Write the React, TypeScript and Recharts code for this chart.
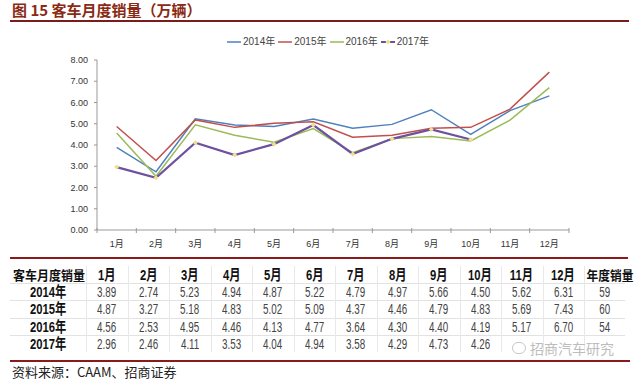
import { LineChart, Line, XAxis, YAxis } from "recharts";

const months = ["1月", "2月", "3月", "4月", "5月", "6月", "7月", "8月", "9月", "10月", "11月", "12月"];
const sales2014 = [3.89, 2.74, 5.23, 4.94, 4.87, 5.22, 4.79, 4.97, 5.66, 4.5, 5.62, 6.31];
const sales2015 = [4.87, 3.27, 5.18, 4.83, 5.02, 5.09, 4.37, 4.46, 4.79, 4.83, 5.69, 7.43];
const sales2016 = [4.56, 2.53, 4.95, 4.46, 4.13, 4.77, 3.64, 4.3, 4.4, 4.19, 5.17, 6.7];
const sales2017 = [2.96, 2.46, 4.11, 3.53, 4.04, 4.94, 3.58, 4.29, 4.73, 4.26, null, null];
const yearLabels = ["2014年", "2015年", "2016年", "2017年"];
const annualTotals = ["59", "60", "54", ""];
const yTicks = [0, 1, 2, 3, 4, 5, 6, 7, 8];

const COLORS = ["#4F81BD", "#C0504D", "#9BBB59", "#6E50A0"];
const MARKER_2017 = "#EEE08E";

const data = months.map((m, i) => ({
  month: m,
  y2014: sales2014[i],
  y2015: sales2015[i],
  y2016: sales2016[i],
  y2017: sales2017[i],
}));

const tableRows = [sales2014, sales2015, sales2016, sales2017];

const FONT = '"Liberation Sans", Arial, "Noto Sans CJK SC", sans-serif';
const CJK = '"Noto Sans CJK SC", sans-serif';

const PLOT_LEFT = 97;
const PLOT_RIGHT = 569;
const BAND = (PLOT_RIGHT - PLOT_LEFT) / months.length;

function MonthTick(props: any) {
  const { x, y, payload, index } = props;
  const axisY = y - 8;
  return (
    <g>
      <line x1={x - BAND / 2} x2={x - BAND / 2} y1={axisY - 2} y2={axisY + 3} stroke="#999" />
      {index === months.length - 1 && (
        <line x1={x + BAND / 2} x2={x + BAND / 2} y1={axisY - 2} y2={axisY + 3} stroke="#999" />
      )}
      <text x={x} y={y + 9} textAnchor="middle" fontSize={9} fill="#333" fontFamily={FONT}>
        {payload.value}
      </text>
    </g>
  );
}

function Diamond(props: any) {
  const { cx, cy, value } = props;
  if (value == null || cx == null) return <g />;
  return (
    <path
      d={`M${cx},${cy - 2.5} L${cx + 2.5},${cy} L${cx},${cy + 2.5} L${cx - 2.5},${cy} Z`}
      fill={MARKER_2017}
    />
  );
}

function LegendItem({ label, color, dashed }: { label: string; color: string; dashed?: boolean }) {
  return (
    <div style={{ display: "flex", alignItems: "center", marginRight: 3 }}>
      <svg width={14} height={6} style={{ marginRight: 2 }}>
        {dashed ? (
          <>
            <line x1={0} x2={5} y1={3} y2={3} stroke={color} strokeWidth={2} />
            <line x1={9} x2={14} y1={3} y2={3} stroke={color} strokeWidth={2} />
            <path d="M7,0.5 L9.5,3 L7,5.5 L4.5,3 Z" fill={MARKER_2017} />
          </>
        ) : (
          <line x1={0} x2={14} y1={3} y2={3} stroke={color} strokeWidth={1.5} />
        )}
      </svg>
      <span>{label}</span>
    </div>
  );
}

// condensed cell text, like the narrow font of the source table
function Cell({
  left,
  top,
  width,
  height,
  text,
  size,
  bold,
  color,
  squeeze,
  family,
}: {
  left: number;
  top: number;
  width: number;
  height: number;
  text: string;
  size: number;
  bold?: boolean;
  color: string;
  squeeze: number;
  family: string;
}) {
  return (
    <div
      style={{
        position: "absolute",
        left,
        top,
        width,
        height,
        lineHeight: `${height}px`,
        textAlign: "center",
        whiteSpace: "nowrap",
      }}
    >
      <span
        style={{
          display: "inline-block",
          transform: `scaleX(${squeeze})`,
          fontSize: size,
          fontWeight: bold ? 700 : 400,
          fontFamily: family,
          color,
        }}
      >
        {text}
      </span>
    </div>
  );
}

export default function App() {
  const colLeft = 86;
  const colW = 41.5;
  const rowTop = 266;
  const rowH = 17.2;
  const headers = [...months, "年度销量"];

  return (
    <div
      style={{
        position: "absolute",
        left: 0,
        top: 0,
        width: 640,
        height: 380,
        background: "#fff",
        overflow: "hidden",
        fontFamily: FONT,
      }}
    >
      <div
        style={{
          position: "absolute",
          left: 12,
          top: 1,
          fontSize: 15,
          fontWeight: 700,
          color: "#8B2A14",
          fontFamily: CJK,
          lineHeight: "18px",
        }}
      >
        图 15 客车月度销量（万辆）
      </div>
      <div style={{ position: "absolute", left: 10, top: 20, width: 619, height: 2, background: "#7A1C1C" }} />

      <div
        style={{
          position: "absolute",
          left: 227,
          top: 35,
          display: "flex",
          fontSize: 10,
          color: "#444",
          lineHeight: "14px",
        }}
      >
        {yearLabels.map((y, i) => (
          <LegendItem key={y} label={y} color={COLORS[i]} dashed={i === 3} />
        ))}
      </div>

      <div style={{ position: "absolute", left: 0, top: 0 }}>
        <LineChart
          width={640}
          height={256}
          data={data}
          margin={{ top: 60, right: 640 - PLOT_RIGHT, left: 0, bottom: 6 }}
        >
          <XAxis
            dataKey="month"
            scale="band"
            height={20}
            interval={0}
            axisLine={{ stroke: "#999" }}
            tickLine={false}
            tick={<MonthTick />}
          />
          <YAxis
            width={PLOT_LEFT}
            domain={[0, 8]}
            ticks={yTicks}
            interval={0}
            axisLine={{ stroke: "#999" }}
            tickLine={{ stroke: "#999" }}
            tickSize={3}
            tickMargin={6}
            tickFormatter={(v: number) => v.toFixed(2)}
            tick={{ fontSize: 9, fill: "#333", fontFamily: FONT }}
          />
          <Line dataKey="y2014" stroke={COLORS[0]} strokeWidth={1.5} dot={false} isAnimationActive={false} />
          <Line dataKey="y2015" stroke={COLORS[1]} strokeWidth={1.5} dot={false} isAnimationActive={false} />
          <Line dataKey="y2016" stroke={COLORS[2]} strokeWidth={1.5} dot={false} isAnimationActive={false} />
          <Line
            dataKey="y2017"
            stroke={COLORS[3]}
            strokeWidth={2.2}
            dot={<Diamond />}
            isAnimationActive={false}
          />
        </LineChart>
      </div>

      <div style={{ position: "absolute", left: 10, top: 257, width: 618, height: 2, background: "#8B1A1A" }} />

      {/* data table */}
      {[0, 1, 2, 3].map((r) => (
        <div
          key={"h" + r}
          style={{
            position: "absolute",
            left: 10,
            top: rowTop + rowH * (r + 1),
            width: 615,
            height: 1,
            background: "#E2E2E2",
          }}
        />
      ))}
      {headers.map((_, c) => (
        <div
          key={"v" + c}
          style={{
            position: "absolute",
            left: colLeft + colW * c,
            top: rowTop,
            width: 1,
            height: rowH * 5,
            background: "#E8E8E8",
          }}
        />
      ))}
      <Cell
        left={10}
        top={rowTop}
        width={colLeft - 10}
        height={rowH}
        text="客车月度销量"
        size={13}
        bold
        color="#111"
        squeeze={0.92}
        family={CJK}
      />
      {headers.map((h, c) => (
        <Cell
          key={"hd" + c}
          left={colLeft + colW * c}
          top={rowTop}
          width={colW}
          height={rowH}
          text={h}
          size={c < 12 ? 15 : 13}
          bold
          color="#111"
          squeeze={c < 12 ? 0.75 : 0.9}
          family={c < 12 ? FONT : CJK}
        />
      ))}
      {tableRows.map((row, r) => (
        <div key={"r" + r}>
          <Cell
            left={10}
            top={rowTop + rowH * (r + 1)}
            width={colLeft - 10}
            height={rowH}
            text={yearLabels[r]}
            size={15}
            bold
            color="#111"
            squeeze={0.75}
            family={FONT}
          />
          {[...row.map((v) => (v == null ? "" : v.toFixed(2))), annualTotals[r]].map((v, c) => (
            <Cell
              key={c}
              left={colLeft + colW * c}
              top={rowTop + rowH * (r + 1)}
              width={colW}
              height={rowH}
              text={v}
              size={14}
              color="#444"
              squeeze={0.7}
              family={FONT}
            />
          ))}
        </div>
      ))}

      <div
        style={{
          position: "absolute",
          left: 512,
          top: 338,
          fontSize: 14,
          color: "#BDBDBD",
          fontFamily: CJK,
          display: "flex",
          alignItems: "center",
        }}
      >
        <span
          style={{
            display: "inline-block",
            width: 12,
            height: 10,
            border: "1px solid #C8C8C8",
            borderRadius: 6,
            marginRight: 4,
          }}
        />
        招商汽车研究
      </div>

      <div style={{ position: "absolute", left: 10, top: 360, width: 620, height: 2, background: "#8B1A1A" }} />
      <div
        style={{
          position: "absolute",
          left: 12,
          top: 363,
          fontSize: 13,
          color: "#222",
          fontFamily: CJK,
          lineHeight: "17px",
        }}
      >
        资料来源：CAAM、招商证券
      </div>
    </div>
  );
}
